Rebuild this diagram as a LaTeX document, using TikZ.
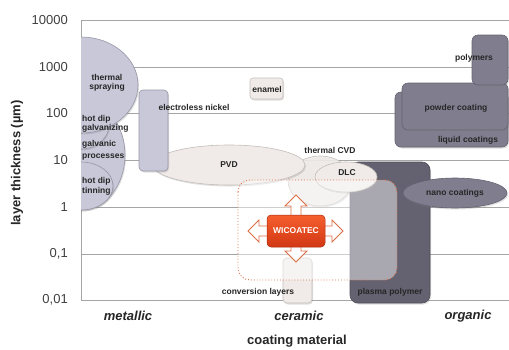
\documentclass[tikz,border=0pt]{standalone}
\usepackage{fontspec}
\setmainfont{Liberation Sans}
\usetikzlibrary{shadows}

\definecolor{metalfill}{RGB}{200,200,216}
\definecolor{metaldraw}{RGB}{150,150,166}
\definecolor{ceramfill}{RGB}{240,235,232}
\definecolor{ceramdraw}{RGB}{196,190,186}
\definecolor{organfill}{RGB}{128,126,142}
\definecolor{organdark}{RGB}{100,98,112}
\definecolor{wicotop}{RGB}{245,95,45}
\definecolor{wicobot}{RGB}{210,55,20}
\definecolor{wicoline}{RGB}{220,110,70}
\definecolor{gridgray}{RGB}{165,165,165}

\begin{document}
\begin{tikzpicture}[
    x=1pt, y=-1pt,
    font=\fontsize{8.5}{9.5}\selectfont\bfseries,
    lbl/.style={text=black!85, inner sep=0pt, align=center},
    tick/.style={font=\fontsize{13}{14}\selectfont, text=black!75, anchor=east, inner sep=0pt},
    cat/.style={font=\fontsize{13}{14}\selectfont\bfseries\itshape, text=black!85},
    axislabel/.style={font=\fontsize{13}{14}\selectfont\bfseries, text=black!85},
    gridline/.style={draw=gridgray, line width=0.9pt},
    shade/.style={drop shadow={opacity=0.25, shadow xshift=1pt, shadow yshift=-1.5pt}},
    metal/.style={fill=metalfill, draw=metaldraw, line width=0.6pt, shade},
    ceram/.style={fill=ceramfill, draw=ceramdraw, line width=0.6pt, shade},
    organ/.style={fill=organfill, draw=organdark, line width=0.6pt, shade},
    focusbox/.style={fill=white, fill opacity=0.45, draw=wicoline, dotted, line width=0.9pt, rounded corners=12},
    wicobox/.style={rounded corners=4, top color=wicotop, bottom color=wicobot, draw=wicobot!80!black, line width=0.5pt,
        minimum width=58, minimum height=32, text=white, font=\fontsize{8.5}{9.5}\selectfont\bfseries}
]
    \useasboundingbox (0,0) rectangle (509,349);

    % Grid and axis
    \foreach \y/\t in {20/10000, 67/1000, 113/100, 160/10, 207/1, 254/{0,1}, 300/{0,01}} {
        \draw[gridline] (81,\y) -- (509,\y);
        \node[tick] (tick\y) at (68,\y) {\t};
    }
    \draw[gridline] (81,20) -- (81,300);

    % Ceramic coatings
    \path[ceram, fill opacity=0.9] (320,181) ellipse [x radius=32, y radius=25];
    \path[ceram] (229,165) ellipse [x radius=76, y radius=20];
    \path[organ, fill=organdark, draw=organdark!80!black, rounded corners=8] (350,162) rectangle (430,303);
    \path[ceram] (346,177) ellipse [x radius=31, y radius=15];
    \path[ceram, rounded corners=4] (283,258) rectangle (312,303);
    \path[focusbox] (238,180) rectangle (397,280);
    \path[organ] (455,193) ellipse [x radius=52, y radius=15];

    % WICOATEC with four arrows
    \draw[wicoline, fill=white, line width=0.9pt, line join=miter]
        (296,195) -- (307,206) -- (301,206) -- (301,226) -- (332,226) -- (332,220) -- (343,231)
        -- (332,242) -- (332,236) -- (301,236) -- (301,251) -- (307,251) -- (296,262)
        -- (285,251) -- (291,251) -- (291,236) -- (259,236) -- (259,242) -- (248,231)
        -- (259,220) -- (259,226) -- (291,226) -- (291,206) -- (285,206) -- cycle;
    \node[wicobox] (wico) at (296,231) {WICOATEC};

    % Metallic coatings
    \begin{scope}
        \clip (81,20) rectangle (509,300);
        \path[metal] (81,155) ellipse [x radius=44, y radius=55];
        \path[metal] (81,125) ellipse [x radius=28, y radius=24];
        \path[metal] (81,186) ellipse [x radius=32, y radius=24];
        \path[metal] (81,85) ellipse [x radius=57, y radius=48];
    \end{scope}
    \path[metal, rounded corners=4] (139,90) rectangle (168,171);
    \path[ceram, rounded corners=3] (250,78) rectangle (283,99);

    % Organic coatings
    \path[organ, rounded corners=6] (395,92) rectangle (508,147);
    \path[organ, rounded corners=6] (402,83) rectangle (508,130);
    \path[organ, rounded corners=6] (472,35) rectangle (508,85);

    % Labels
    \node[lbl] (thermal) at (107,83) {thermal\\spraying};
    \node[lbl, anchor=west, align=left] (galvanizing) at (82,124) {hot dip\\galvanizing};
    \node[lbl, anchor=west, align=left] (galvanic) at (82,150.5) {galvanic\\[2pt]processes};
    \node[lbl, anchor=west, align=left] (tinning) at (82,186.5) {hot dip\\tinning};
    \node[lbl] (nickel) at (194,107) {electroless nickel};
    \node[lbl] (enamel) at (267,89) {enamel};
    \node[lbl] (pvd) at (229,165) {PVD};
    \node[lbl] (cvd) at (330,150) {thermal CVD};
    \node[lbl] (dlc) at (347,173) {DLC};
    \node[lbl] (conversion) at (258,292) {conversion layers};
    \node[lbl] (plasma) at (390,292) {plasma polymer};
    \node[lbl] (nano) at (455,193) {nano coatings};
    \node[lbl] (polymers) at (474,58) {polymers};
    \node[lbl] (powder) at (456,108) {powder coating};
    \node[lbl] (liquid) at (468,140) {liquid coatings};

    % Axis titles
    \node[axislabel, rotate=90] (ylabel) at (17,163) {layer thickness (µm)};
    \node[cat] (metallic) at (128,316) {metallic};
    \node[cat] (ceramic) at (299,316) {ceramic};
    \node[cat] (organic) at (468,316) {organic};
    \node[axislabel] (xlabel) at (297,341) {coating material};
\end{tikzpicture}
\end{document}
